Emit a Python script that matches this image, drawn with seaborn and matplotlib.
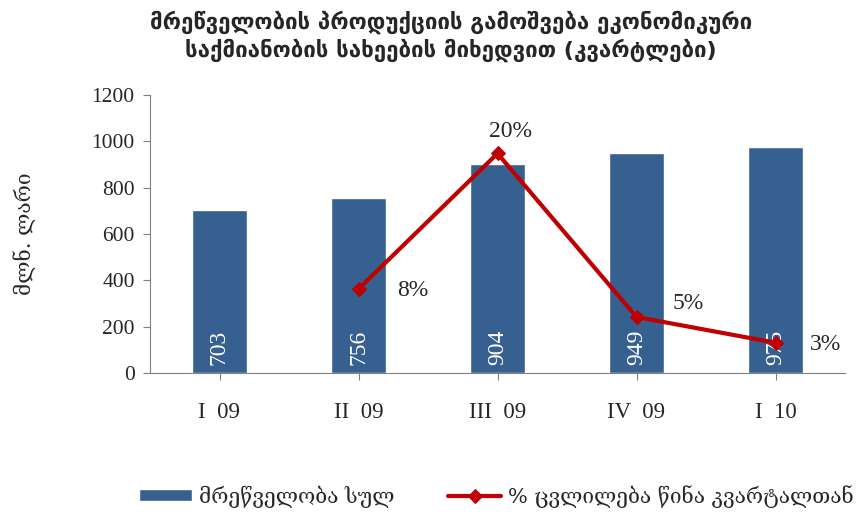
import seaborn as sns
import matplotlib.pyplot as plt
import pandas as pd

quarters = ['I  09', 'II  09', 'III  09', 'IV  09', 'I  10']
output_total = [703, 756, 904, 949, 975]
change_q = [None, 7.5, 19.6, 5.0, 2.7]
change_labels = ['', '8%', '20%', '5%', '3%']

title = 'მრეწველობის პროდუქციის გამოშვება ეკონომიკური\nსაქმიანობის სახეების მიხედვით (კვარტლები)'
ylabel = 'მლნ. ლარი'
bar_name = 'მრეწველობა სულ'
line_name = '% ცვლილება წინა კვარტალთან'

sns.set_style('white')
plt.rcParams['font.family'] = ['Liberation Serif', 'DejaVu Serif', 'DejaVu Sans']

df = pd.DataFrame({'q': quarters, 'total': output_total, 'chg': change_q})

fig = plt.figure(figsize=(8.59, 5.15), dpi=100)
ax = fig.add_axes([150 / 859, 1 - 373 / 515, 695 / 859, 278 / 515])

sns.barplot(data=df, x='q', y='total', color='#36608F', width=0.4,
            saturation=1, ax=ax, label=bar_name)
ax.set_ylim(0, 1200)
ax.set_xlim(-0.5, 4.5)
ax.set_yticks(range(0, 1201, 200))
ax.set_xlabel('')
ax.set_ylabel(ylabel, family=['DejaVu Serif', 'DejaVu Sans'], fontsize=15, labelpad=40)
ax.tick_params(axis='y', labelsize=15.5, length=5, color='#808080', direction='out', pad=6)
ax.tick_params(axis='x', labelsize=16.5, length=5, color='#808080', direction='out', pad=16)
for s in ['top', 'right']:
    ax.spines[s].set_visible(False)
for s in ['left', 'bottom']:
    ax.spines[s].set_color('#808080')
ax.xaxis.set_ticks_position('bottom')
ax.yaxis.set_ticks_position('left')

for i, v in enumerate(output_total):
    ax.text(i, 112, str(v), rotation=90, color='white', ha='center', va='center', fontsize=17)

ax2 = ax.twinx()
sub = df.dropna()
sns.lineplot(x=sub.index, y=sub['chg'], color='#C00000', lw=3, marker='D',
             markersize=7, markeredgecolor='#C00000', ax=ax2, label=line_name)
ax2.set_ylim(0, 1200 / 48.35)
ax2.set_xlim(-0.5, 4.5)
ax2.axis('off')
ax2.get_legend().remove()

offsets = {1: (28, -1, 'left', 'center'), 2: (9, 8, 'center', 'bottom'),
           3: (26, 2, 'left', 'bottom'), 4: (25, -1, 'left', 'center')}
for i, (dx, dy, ha, va) in offsets.items():
    ax2.annotate(change_labels[i], (i, change_q[i]), xytext=(dx, dy),
                 textcoords='offset points', ha=ha, va=va, fontsize=17)

fig.text(0.525, 0.98, title, ha='center', va='top', fontsize=16, fontweight='bold',
         family=['DejaVu Sans'], linespacing=1.25)

h1, l1 = ax.get_legend_handles_labels()
h2, l2 = ax2.get_legend_handles_labels()
if ax.get_legend():
    ax.get_legend().remove()
fig.legend(h1 + h2, [bar_name, line_name], loc='lower center', ncol=2,
           bbox_to_anchor=(0.578, -0.022), frameon=False,
           prop={'family': ['DejaVu Serif', 'DejaVu Sans'], 'size': 15},
           handlelength=2.5, handleheight=0.5, columnspacing=2.6, handletextpad=0.35)

fig.savefig('out.png', dpi=100)
